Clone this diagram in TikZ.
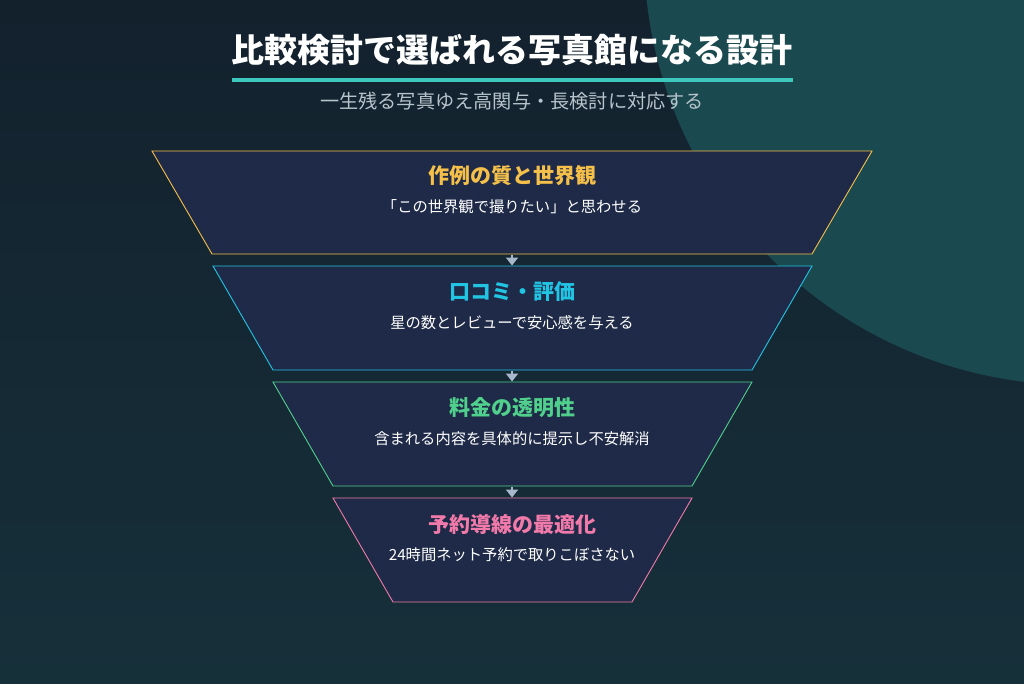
\documentclass[tikz,border=0pt]{standalone}
\usepackage{fontspec}
\setmainfont{Noto Sans CJK JP}
\usetikzlibrary{arrows.meta}
\definecolor{bgtop}{HTML}{13212D}
\definecolor{bgbot}{HTML}{16303A}
\definecolor{blob}{HTML}{1A4A4F}
\definecolor{boxfill}{HTML}{1E2A47}
\definecolor{cyellow}{HTML}{F5C04A}
\definecolor{ccyan}{HTML}{22C4E4}
\definecolor{cgreen}{HTML}{50D08C}
\definecolor{cpink}{HTML}{F27AAA}
\definecolor{teal}{HTML}{3CC8BC}
\definecolor{subgray}{HTML}{B8C4CC}
\definecolor{arrowc}{HTML}{A8B8CC}
\tikzset{
  stagebox/.style={fill=boxfill, line width=0.9pt},
  stagetitle/.style={font=\bfseries\fontsize{21}{24}\selectfont, anchor=center},
  stagetext/.style={font=\fontsize{15.3}{18}\selectfont, text=white, anchor=center},
  flowarrow/.style={draw=arrowc, line width=2pt, -{Triangle[width=12pt,length=8pt]}},
}
\begin{document}
\begin{tikzpicture}[x=1pt,y=-1pt]
\useasboundingbox (0,0) rectangle (1024,683);
\shade[top color=bgtop, bottom color=bgbot] (0,0) rectangle (1024,683);
\begin{scope}
\clip (0,0) rectangle (1024,683);
\fill[blob] (1077,-48) circle (433);
\end{scope}
% title
\node[font=\bfseries\fontsize{33}{38}\selectfont, text=white] (title) at (512,50) {比較検討で選ばれる写真館になる設計};
\fill[teal] (232,78) rectangle (793,82);
\node[font=\fontsize{19.2}{22}\selectfont, text=subgray] (subtitle) at (512,101) {一生残る写真ゆえ高関与・長検討に対応する};
% stages
\draw[stagebox, draw=cyellow] (152,151) -- (872,151) -- (812,254) -- (212,254) -- cycle;
\draw[stagebox, draw=ccyan] (213,266) -- (812,266) -- (752,370) -- (273,370) -- cycle;
\draw[stagebox, draw=cgreen] (273,382) -- (752,382) -- (692,486) -- (333,486) -- cycle;
\draw[stagebox, draw=cpink] (333,498) -- (692,498) -- (632,602) -- (393,602) -- cycle;
\coordinate (s1b) at (512,254.5);
\coordinate (s2t) at (512,265.5);
\coordinate (s2b) at (512,370.5);
\coordinate (s3t) at (512,381.5);
\coordinate (s3b) at (512,486.5);
\coordinate (s4t) at (512,497.5);
\node[stagetitle, text=cyellow] (t1) at (512,176) {作例の質と世界観};
\node[stagetext] (d1) at (512,207) {「この世界観で撮りたい」と思わせる};
\node[stagetitle, text=ccyan] (t2) at (512,292) {口コミ・評価};
\node[stagetext] (d2) at (512,323) {星の数とレビューで安心感を与える};
\node[stagetitle, text=cgreen] (t3) at (512,408) {料金の透明性};
\node[stagetext] (d3) at (512,439) {含まれる内容を具体的に提示し不安解消};
\node[stagetitle, text=cpink] (t4) at (512,524) {予約導線の最適化};
\node[stagetext] (d4) at (512,555) {24時間ネット予約で取りこぼさない};
\draw[flowarrow] (s1b) -- (s2t);
\draw[flowarrow] (s2b) -- (s3t);
\draw[flowarrow] (s3b) -- (s4t);
\end{tikzpicture}
\end{document}
